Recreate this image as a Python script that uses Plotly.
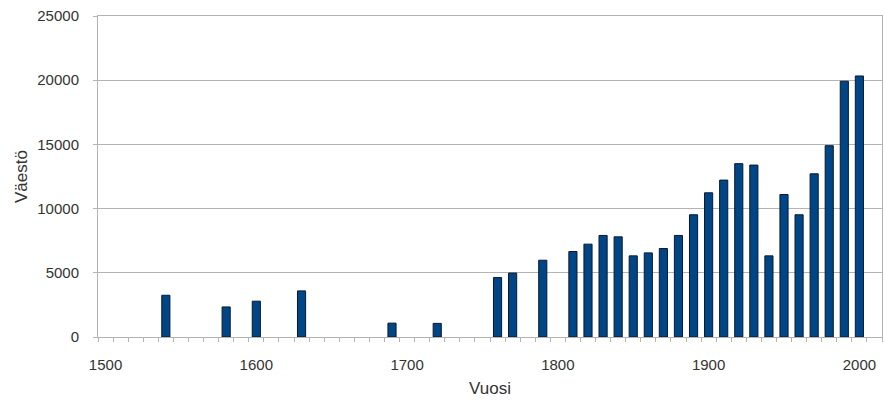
import plotly.graph_objects as go

years = [1540, 1580, 1600, 1630, 1690, 1720, 1760, 1770, 1790, 1810, 1820, 1830, 1840,
         1850, 1860, 1870, 1880, 1890, 1900, 1910, 1920, 1930, 1940, 1950, 1960, 1970,
         1980, 1990, 2000]
population = [3250, 2340, 2790, 3590, 1080, 1060, 4630, 4980, 5980, 6660, 7230, 7910, 7800,
              6320, 6550, 6890, 7910, 9520, 11230, 12220, 13500, 13390, 6320, 11100, 9520,
              12710, 14900, 19920, 20330]
x_ticks = [1500, 1600, 1700, 1800, 1900, 2000]
y_ticks = [0, 5000, 10000, 15000, 20000, 25000]

fig = go.Figure(go.Bar(
    x=years, y=population, width=5.4,
    marker=dict(color="#004586", line=dict(color="#0a1a2e", width=1)),
))

font = "Liberation Sans, Arial, sans-serif"
fig.update_layout(
    width=885, height=405,
    margin=dict(l=98, r=3, t=16, b=68),
    paper_bgcolor="white", plot_bgcolor="white",
    showlegend=False,
    font=dict(family=font, size=15, color="#333333"),
    xaxis=dict(
        range=[1495, 2015], tickvals=x_ticks, ticktext=[str(v) for v in x_ticks],
        ticks="", ticklabelstandoff=14, showgrid=False, zeroline=False, automargin=False,
        showline=True, linecolor="#b3b3b3", linewidth=1, mirror=True,
        minor=dict(ticks="outside", tick0=1495, dtick=10, ticklen=4, tickcolor="#b3b3b3", showgrid=False),
        title=dict(text="Vuosi", font=dict(size=17, color="#333333"), standoff=10),
        tickfont=dict(size=15, color="#333333"),
    ),
    yaxis=dict(
        range=[0, 25000], tickvals=y_ticks, ticktext=[str(v) for v in y_ticks],
        ticks="outside", ticklen=4, tickcolor="#b3b3b3", ticklabelstandoff=11,
        showgrid=True, gridcolor="#b3b3b3", gridwidth=1, zeroline=False, automargin=False,
        showline=True, linecolor="#b3b3b3", linewidth=1, mirror=True,
        title=dict(text="Väestö", font=dict(size=17, color="#333333"), standoff=5),
        tickfont=dict(size=15, color="#333333"),
    ),
)

fig.write_html("out.html", config={"displayModeBar": False},
               post_script="document.body.style.margin='0';")
